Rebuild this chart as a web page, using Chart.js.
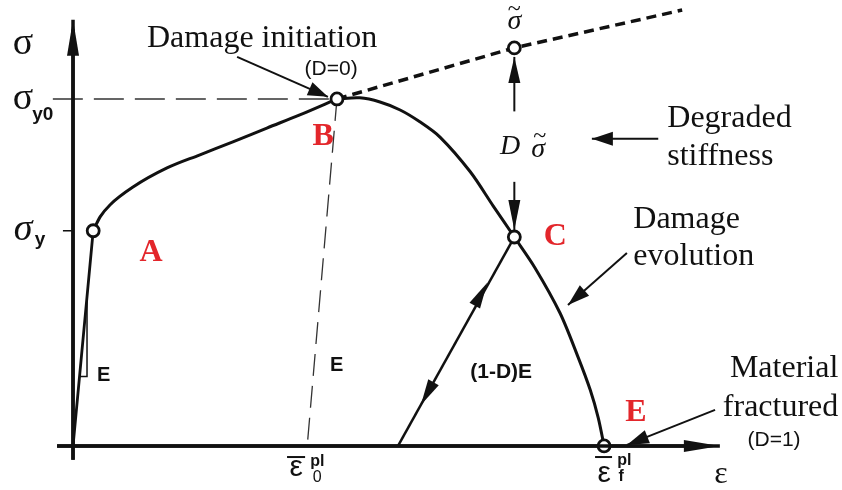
<!DOCTYPE html>
<html>
<head>
<meta charset="utf-8">
<script src="https://cdn.jsdelivr.net/npm/chart.js@4"></script>
<style>
	body { margin: 0; background: #fff; }
	canvas { display: block; }
</style>
</head>
<body>
<canvas id="damageCurve" width="842" height="490"></canvas>
<script>
// strain (x) and stress (y) in arbitrary units: fracture strain = 10, initiation stress = 10
const yieldStrain = 0.38;
const yieldStress = 6.2;
const initStrain = 4.97;
const initStress = 10;
const plasticStrain0 = 4.41;
const fractureStrain = 10;
const reloadStrain = 6.12;
const damageStrain = 8.31;
const damageStress = 6.02;
const effectiveStress = 11.47;

const hardeningStrain = [0.38, 0.51, 0.70, 1.13, 1.77, 2.39, 3.01, 3.65, 4.27, 4.97];
const hardeningStress = [6.2, 6.60, 6.95, 7.46, 8.01, 8.39, 8.76, 9.16, 9.54, 10.0];

const softeningStrain = [4.97, 5.40, 5.78, 6.16, 6.53, 6.91, 7.48, 7.91, 8.31, 8.70, 9.17, 9.51, 9.74, 9.89, 10.0];
const softeningStress = [10.0, 10.03, 9.91, 9.68, 9.34, 8.90, 7.90, 6.92, 6.02, 5.13, 3.83, 2.56, 1.61, 0.81, 0];

const effectiveStrain = [4.97, 8.31, 11.47];
const effectiveLine = [10.0, 11.47, 12.56];

const serif = '"Liberation Serif", "Times New Roman", serif';
const sans = '"Liberation Sans", Arial, sans-serif';
const ink = "#111111";
const red = "#e3262b";

const toPoints = (xs, ys) => xs.map((x, i) => ({ x: x, y: ys[i] }));

// small slope triangles: top on the line, corner, left on the line
function slopeTriangle(x0, s0, x1, sTop, sBot) {
	const at = (s) => x0 + (x1 - x0) * s;
	return [
		{ x: at(sTop), y: sTop },
		{ x: at(sTop), y: sBot },
		{ x: at(sBot), y: sBot }
	];
}

const elasticTri = slopeTriangle(0, 0, yieldStrain / yieldStress, 4.3, 2.0);
const unloadTri = slopeTriangle(plasticStrain0, 0, (initStrain - plasticStrain0) / initStress, 4.58, 2.28);
const reloadTri = slopeTriangle(reloadStrain, 0, (damageStrain - reloadStrain) / damageStress, 3.36, 2.28);

function line(points, extra) {
	return Object.assign({
		data: points,
		showLine: true,
		borderColor: ink,
		borderWidth: 3,
		pointRadius: 0,
		fill: false,
		tension: 0
	}, extra);
}

// annotation arrows, data units: from, to, head length, head half width (px)
const arrows = [
	{ from: [0, -0.4], to: [0, 12.28], len: 36, half: 6 },
	{ from: [-0.3, 0], to: [12.18, 0], len: 36, half: 6 },
	{ from: [3.09, 11.21], to: [4.80, 10.06], len: 20, half: 7 },
	{ from: [damageStrain, 9.64], to: [damageStrain, 11.21], len: 26, half: 6 },
	{ from: [damageStrain, 7.61], to: [damageStrain, 6.22], len: 30, half: 6 },
	{ from: [11.02, 8.85], to: [9.77, 8.85], len: 21, half: 7 },
	{ from: [10.43, 5.56], to: [9.32, 4.06], len: 22, half: 7 },
	{ from: [12.09, 1.04], to: [10.43, 0.03], len: 22, half: 7 }
];

// heads sitting on the reloading line
const reloadHeads = [
	{ from: [reloadStrain, 0], to: [7.80, 4.70] },
	{ from: [damageStrain, damageStress], to: [6.55, 1.18] }
];

const notes = [
	{ text: "Damage initiation", at: [3.56, 11.50], font: `32px ${serif}`, align: "center", base: "alphabetic" },
	{ text: "(D=0)", at: [4.86, 10.86], font: `21px ${sans}` },
	{ text: "Degraded", at: [11.19, 9.19], font: `32px ${serif}`, align: "left", base: "alphabetic" },
	{ text: "stiffness", at: [11.19, 8.10], font: `32px ${serif}`, align: "left", base: "alphabetic" },
	{ text: "Damage", at: [10.55, 6.28], font: `32px ${serif}`, align: "left", base: "alphabetic" },
	{ text: "evolution", at: [10.55, 5.22], font: `32px ${serif}`, align: "left", base: "alphabetic" },
	{ text: "Material", at: [14.41, 1.99], font: `32px ${serif}`, align: "right", base: "alphabetic" },
	{ text: "fractured", at: [14.41, 0.86], font: `32px ${serif}`, align: "right", base: "alphabetic" },
	{ text: "(D=1)", at: [13.20, 0.17], font: `21px ${sans}` },
	{ text: "(1-D)E", at: [7.48, 2.13], font: `bold 21px ${sans}`, align: "left" },
	{ text: "E", at: [0.45, 2.02], font: `bold 20px ${sans}`, align: "left" },
	{ text: "E", at: [4.84, 2.31], font: `bold 20px ${sans}`, align: "left" },
	{ text: "A", at: [1.47, 5.56], font: `bold 32px ${serif}`, color: red },
	{ text: "B", at: [4.71, 8.90], font: `bold 32px ${serif}`, color: red },
	{ text: "C", at: [9.08, 6.02], font: `bold 32px ${serif}`, color: red },
	{ text: "E", at: [10.60, 0.95], font: `bold 32px ${serif}`, color: red },
	{ text: "σ", at: [-0.94, 11.59], font: `38px ${serif}` },
	{ text: "ε", at: [12.2, -0.84], font: `32px ${serif}` },
	{ text: "σ", at: [-0.94, 10.0], font: `38px ${serif}` },
	{ text: "y0", at: [-0.77, 9.54], font: `bold 19px ${sans}`, align: "left" },
	{ text: "σ", at: [-0.94, 6.22], font: `italic 38px ${serif}` },
	{ text: "y", at: [-0.72, 5.94], font: `bold 19px ${sans}`, align: "left" },
	{ text: "ε", at: [4.20, -0.63], font: `30px ${sans}` },
	{ text: "pl", at: [4.60, -0.46], font: `bold 16px ${sans}` },
	{ text: "0", at: [4.60, -0.92], font: `16px ${sans}` },
	{ text: "ε", at: [10.0, -0.81], font: `30px ${sans}` },
	{ text: "pl", at: [10.38, -0.43], font: `bold 16px ${sans}` },
	{ text: "f", at: [10.32, -0.89], font: `bold 16px ${sans}` },
	{ text: "σ", at: [damageStrain, 12.22], font: `italic 28px ${serif}` },
	{ text: "~", at: [damageStrain, 12.56], font: `24px ${serif}` },
	{ text: "D", at: [8.23, 8.62], font: `italic 28px ${serif}` },
	{ text: "σ", at: [8.76, 8.53], font: `italic 28px ${serif}` },
	{ text: "~", at: [8.79, 8.90], font: `24px ${serif}` }
];

// bars over the plastic strain symbols
const overlines = [
	{ from: 4.03, to: 4.37, at: -0.32 },
	{ from: 9.83, to: 10.15, at: -0.32 }
];

function drawHead(ctx, x0, y0, x1, y1, len, half) {
	const a = Math.atan2(y1 - y0, x1 - x0);
	const bx = x1 - len * Math.cos(a);
	const by = y1 - len * Math.sin(a);
	ctx.beginPath();
	ctx.moveTo(x1, y1);
	ctx.lineTo(bx + half * Math.sin(a), by - half * Math.cos(a));
	ctx.lineTo(bx - half * Math.sin(a), by + half * Math.cos(a));
	ctx.closePath();
	ctx.fill();
}

const annotate = {
	id: "annotate",
	afterDatasetsDraw(chart) {
		const ctx = chart.ctx;
		const sx = chart.scales.x;
		const sy = chart.scales.y;
		const px = (p) => [sx.getPixelForValue(p[0]), sy.getPixelForValue(p[1])];

		ctx.save();
		ctx.fillStyle = ink;
		ctx.strokeStyle = ink;
		ctx.lineCap = "butt";

		for (const a of arrows) {
			const [x0, y0] = px(a.from);
			const [x1, y1] = px(a.to);
			ctx.lineWidth = a.len > 30 ? 3.5 : 2;
			ctx.beginPath();
			ctx.moveTo(x0, y0);
			ctx.lineTo(x1, y1);
			ctx.stroke();
			drawHead(ctx, x0, y0, x1, y1, a.len, a.half);
		}

		for (const h of reloadHeads) {
			const [x0, y0] = px(h.from);
			const [x1, y1] = px(h.to);
			drawHead(ctx, x0, y0, x1, y1, 26, 6);
		}

		ctx.lineWidth = 2;
		for (const o of overlines) {
			const [x0, y0] = px([o.from, o.at]);
			const [x1] = px([o.to, o.at]);
			ctx.beginPath();
			ctx.moveTo(x0, y0);
			ctx.lineTo(x1, y0);
			ctx.stroke();
		}

		for (const n of notes) {
			const [x, y] = px(n.at);
			ctx.font = n.font;
			ctx.fillStyle = n.color || ink;
			ctx.textAlign = n.align || "center";
			ctx.textBaseline = n.base || "middle";
			ctx.fillText(n.text, x, y);
		}
		ctx.restore();
	}
};

new Chart(document.getElementById("damageCurve"), {
	type: "scatter",
	data: {
		datasets: [
			// open circles at A, B, C, sigma tilde and E
			{
				data: [
					{ x: yieldStrain, y: yieldStress },
					{ x: initStrain, y: initStress },
					{ x: damageStrain, y: damageStress },
					{ x: damageStrain, y: effectiveStress },
					{ x: fractureStrain, y: 0 }
				],
				showLine: false,
				pointRadius: 6,
				pointBorderWidth: 2.8,
				pointBackgroundColor: "#ffffff",
				pointBorderColor: ink
			},
			line([{ x: 0, y: -0.4 }, { x: 0, y: 12.0 }], { borderWidth: 3.5 }),
			line([{ x: -0.3, y: 0 }, { x: 11.9, y: 0 }], { borderWidth: 3.5 }),
			line([{ x: 0, y: 0 }, { x: yieldStrain, y: yieldStress }], { borderWidth: 2.8 }),
			line(toPoints(hardeningStrain, hardeningStress), { cubicInterpolationMode: "monotone" }),
			line(toPoints(softeningStrain, softeningStress), { tension: 0.3 }),
			line(toPoints(effectiveStrain, effectiveLine), { borderWidth: 3.5, borderDash: [10, 6] }),
			line([{ x: -0.38, y: initStress }, { x: initStrain, y: initStress }], { borderWidth: 1.5, borderColor: "#333", borderDash: [30, 11] }),
			line([{ x: -0.19, y: yieldStress }, { x: 0, y: yieldStress }], { borderWidth: 1.5 }),
			line([{ x: initStrain, y: initStress }, { x: plasticStrain0, y: 0 }], { borderWidth: 1.3, borderColor: "#333", borderDash: [22, 10] }),
			line([{ x: reloadStrain, y: 0 }, { x: damageStrain, y: damageStress }], { borderWidth: 2.5 }),
			line(elasticTri, { borderWidth: 1.5 }),
			line(unloadTri, { borderWidth: 1.5 }),
			line(reloadTri, { borderWidth: 1.5 })
		]
	},
	options: {
		responsive: false,
		devicePixelRatio: 1,
		animation: false,
		events: [],
		layout: { padding: 0, autoPadding: false },
		plugins: {
			legend: { display: false },
			tooltip: { enabled: false }
		},
		scales: {
			x: { type: "linear", display: false, min: -1.375, max: 14.48 },
			y: { type: "linear", display: false, min: -1.27, max: 12.85 }
		}
	},
	plugins: [annotate]
});
</script>
</body>
</html>
